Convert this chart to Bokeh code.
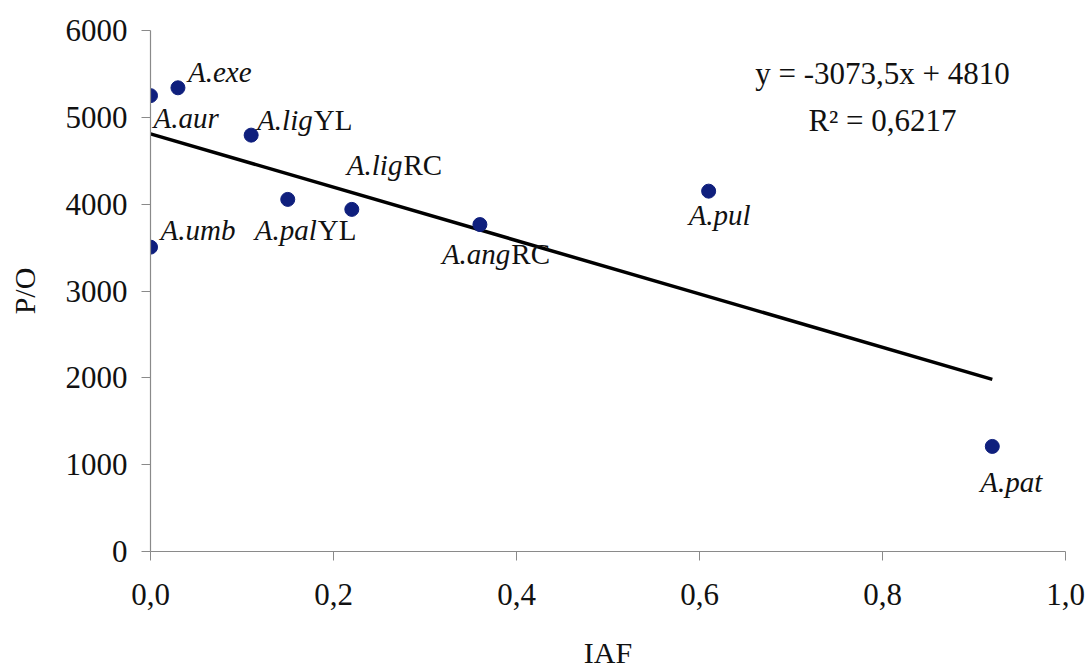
from bokeh.plotting import figure
from bokeh.models import Range1d, FixedTicker, CustomJSTickFormatter, ColumnDataSource, Label
from bokeh.core.properties import value
from bokeh.embed import file_html
from bokeh.resources import INLINE

# ---- data ----
species_italic = ["A.aur", "A.exe", "A.lig", "A.pal", "A.umb", "A.lig", "A.ang", "A.pul", "A.pat"]
species_suffix = ["", "", "YL", "YL", "", "RC", "RC", "", ""]
iaf = [0.0, 0.03, 0.11, 0.15, 0.0, 0.22, 0.36, 0.61, 0.92]
po = [5250, 5340, 4795, 4055, 3505, 3940, 3765, 4150, 1210]
slope = -3073.5
intercept = 4810
r2 = 0.6217
x_ticks = [0.0, 0.2, 0.4, 0.6, 0.8, 1.0]
y_ticks = [0, 1000, 2000, 3000, 4000, 5000, 6000]

# ---- styling ----
FONT = "Liberation Serif"
LABEL_SIZE = 29
# label offsets (pixels) relative to each point: dx, dy (dy positive = down)
label_dx = [3, 10, 6, -33, 10, -5, -38, -20, -12]
label_dy = [22, -16, -15, 31, -17, -44, 29, 24, 36]
# Times-Italic advance widths (per 1000 em) to place the upright suffix
italic_w = {"A": 611, ".": 250, "a": 500, "b": 500, "e": 444, "g": 500, "i": 278,
            "l": 278, "m": 722, "n": 500, "p": 500, "r": 389, "t": 278, "u": 500, "x": 444}


def italic_width(s):
    return sum(italic_w.get(c, 500) for c in s) * LABEL_SIZE / 1000.0


suffix_dx = [dx + italic_width(s) + 1 for dx, s in zip(label_dx, species_italic)]

src = ColumnDataSource(dict(x=iaf, y=po, it=species_italic, suf=species_suffix,
                            dx=label_dx, dy=label_dy, sdx=suffix_dx))

p = figure(width=1089, height=672, output_backend="svg", toolbar_location=None,
           x_range=Range1d(0, 1.0), y_range=Range1d(0, 6000),
           min_border_left=150, min_border_right=24, min_border_top=30, min_border_bottom=121)
p.outline_line_color = None
p.xgrid.visible = False
p.ygrid.visible = False
p.background_fill_color = "white"
p.border_fill_color = "white"

# trend line from fit parameters over the data's x range
xl = [min(iaf), max(iaf)]
yl = [intercept + slope * v for v in xl]
p.line(xl, yl, line_color="black", line_width=3.5)

p.scatter("x", "y", source=src, size=14, fill_color="#0f1f7d", line_color="#0f1f7d")

p.text(x="x", y="y", text="it", source=src, x_offset="dx", y_offset="dy",
       text_font=value(FONT), text_font_style="italic", text_font_size=f"{LABEL_SIZE}px",
       text_color="#111111", text_align="left", text_baseline="alphabetic")
p.text(x="x", y="y", text="suf", source=src, x_offset="sdx", y_offset="dy",
       text_font=value(FONT), text_font_style="normal", text_font_size=f"{LABEL_SIZE}px",
       text_color="#111111", text_align="left", text_baseline="alphabetic")

eq1 = "y = {}x + {}".format(str(slope).replace(".", ","), intercept)
eq2 = "R\u00b2 = {}".format(str(r2).replace(".", ","))
for txt, yy in [(eq1, 5500), (eq2, 4960)]:
    p.add_layout(Label(x=0.80, y=yy, text=txt, text_font=FONT, text_font_size="31px",
                       text_color="#111111", text_align="center", text_baseline="alphabetic"))

for ax in (p.xaxis[0], p.yaxis[0]):
    ax.axis_line_color = "#8a8a8a"
    ax.axis_line_width = 1.2
    ax.major_tick_line_color = "#8a8a8a"
    ax.major_tick_in = 0
    ax.major_tick_out = 9
    ax.minor_tick_line_color = None
    ax.major_label_text_font = FONT
    ax.major_label_text_font_size = "31px"
    ax.major_label_text_color = "#111111"
    ax.axis_label_text_font = FONT
    ax.axis_label_text_font_size = "30px"
    ax.axis_label_text_font_style = "normal"
    ax.axis_label_text_color = "#111111"

p.xaxis.ticker = FixedTicker(ticks=x_ticks)
p.xaxis.formatter = CustomJSTickFormatter(code="return tick.toFixed(1).replace('.', ',');")
p.xaxis.major_label_standoff = 23
p.xaxis.axis_label = "IAF"
p.xaxis.axis_label_standoff = 28
p.yaxis.ticker = FixedTicker(ticks=y_ticks)
p.yaxis.major_label_standoff = 14
p.yaxis.axis_label = "P/O"
p.yaxis.axis_label_standoff = 22

open("out.html", "w").write(file_html(p, INLINE))
